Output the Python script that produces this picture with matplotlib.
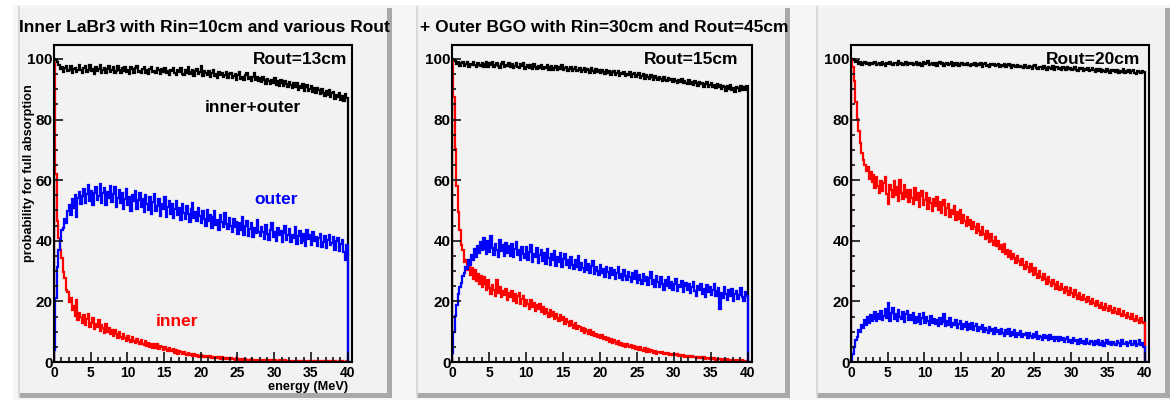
import numpy as np
import matplotlib
matplotlib.use("Agg")
import matplotlib.pyplot as plt
from matplotlib.patches import Rectangle
from matplotlib.ticker import MultipleLocator, FixedLocator

plt.rcParams['font.family'] = ['Liberation Sans', 'DejaVu Sans']
plt.rcParams['font.weight'] = 'bold'

# ---------------------------------------------------------------- data
# Full-absorption probability (%) in 0.2 MeV energy bins from 0 to 40 MeV
BIN_WIDTH = 0.2
E_MAX = 40.0
X_MAX = 40.6
Y_MAX = 104.6

titles = ["Inner LaBr3 with Rin=10cm and various Rout",
          "+ Outer BGO with Rin=30cm and Rout=45cm"]
rout_labels = ["Rout=13cm", "Rout=15cm", "Rout=20cm"]
curve_labels = ["inner+outer", "outer", "inner"]
x_ticks = [0, 5, 10, 15, 20, 25, 30, 35, 40]
y_ticks = [0, 20, 40, 60, 80, 100]

# Rout = 13 cm
tot_13 = [
    100.0, 99.6, 99.1, 97.9, 96.8, 97.5, 95.6, 96.9, 97.8, 95.9, 96.4, 97.6, 95.3, 96.8, 97.1, 95.8, 96.2, 98.0, 96.5, 95.4,
    96.9, 97.7, 95.6, 96.3, 98.1, 95.9, 96.6, 95.1, 97.4, 96.0, 96.8, 97.9, 95.5, 96.2, 97.0, 95.3, 96.7, 97.6, 95.8, 96.4,
    97.3, 95.4, 96.1, 97.8, 96.5, 95.2, 96.9, 96.0, 97.5, 95.6, 96.3, 95.0, 97.2, 96.6, 95.4, 96.9, 97.7, 95.7, 96.1, 95.3,
    96.8, 97.4, 95.5, 96.2, 94.9, 96.7, 97.3, 95.8, 96.0, 95.2, 97.1, 96.4, 95.0, 96.6, 95.7, 97.0, 95.3, 96.1, 94.8, 96.5,
    95.9, 97.0, 95.4, 94.7, 96.3, 95.8, 96.9, 95.1, 94.6, 96.2, 95.5, 97.2, 94.9, 95.7, 96.4, 94.5, 95.9, 96.7, 95.0, 95.6,
    97.6, 94.3, 96.1, 95.2, 94.6, 95.9, 94.0, 95.5, 96.2, 94.4, 95.0, 93.8, 95.7, 94.8, 95.3, 93.9, 94.6, 95.8, 93.7, 94.9,
    95.4, 93.6, 94.3, 95.1, 93.2, 94.7, 95.6, 93.5, 94.0, 92.9, 94.8, 95.5, 93.3, 94.2, 92.8, 93.9, 95.4, 93.0, 94.1, 92.6,
    93.7, 92.4, 94.0, 93.1, 91.8, 93.5, 92.7, 91.6, 93.2, 92.2, 93.8, 91.5, 92.6, 91.2, 93.0, 92.1, 91.0, 92.8, 91.7, 90.8,
    92.4, 91.3, 90.4, 91.9, 90.7, 92.1, 89.9, 91.0, 90.3, 91.6, 89.5, 90.8, 91.4, 89.3, 90.1, 91.2, 89.0, 90.5, 88.8, 90.3,
    89.6, 88.5, 90.1, 88.9, 87.7, 89.4, 88.2, 89.8, 87.3, 88.6, 89.2, 86.9, 88.0, 87.4, 88.9, 86.6, 87.8, 86.2, 88.3, 87.1,
]
out_13 = [
    4.0, 21.0, 31.5, 36.8, 40.2, 43.5, 44.1, 47.3, 46.0, 49.8, 51.9, 48.6, 53.8, 50.7, 55.1, 47.9, 54.2, 56.0, 52.3, 54.7,
    57.1, 52.6, 55.3, 58.4, 53.0, 56.5, 51.9, 55.8, 57.9, 53.6, 54.9, 58.8, 52.4, 55.6, 57.3, 51.7, 56.2, 54.1, 58.0, 52.9,
    55.4, 57.6, 51.3, 54.0, 56.9, 52.5, 55.7, 50.6, 53.8, 57.0, 51.9, 54.6, 49.8, 55.2, 53.1, 56.3, 50.4, 53.5, 55.8, 51.0,
    53.7, 49.5, 55.0, 52.2, 50.1, 54.3, 48.7, 52.9, 55.4, 49.9, 51.6, 53.8, 48.2, 52.0, 50.5, 54.6, 47.9, 51.3, 53.2, 49.0,
    52.1, 47.5, 50.6, 53.0, 48.4, 50.9, 46.8, 52.3, 49.3, 47.1, 51.5, 48.8, 46.2, 50.4, 52.6, 47.6, 49.5, 46.4, 50.8, 48.1,
    45.9, 49.7, 47.2, 44.8, 50.3, 46.5, 48.6, 44.1, 47.8, 49.9, 45.3, 47.0, 43.7, 48.4, 46.1, 44.5, 49.2, 45.7, 43.9, 47.5,
    45.0, 42.8, 47.1, 44.6, 46.3, 42.3, 45.8, 43.4, 47.7, 42.0, 44.9, 46.6, 41.6, 43.8, 45.9, 41.2, 44.3, 42.5, 46.8, 42.9,
    41.5, 44.7, 43.0, 40.6, 45.1, 42.2, 40.1, 43.6, 46.0, 41.4, 42.8, 39.8, 44.2, 41.9, 43.3, 39.5, 42.6, 44.9, 40.3, 41.8,
    43.9, 39.6, 42.0, 40.8, 44.5, 38.9, 41.5, 43.1, 39.3, 42.4, 40.0, 38.4, 43.6, 40.7, 41.9, 38.7, 42.8, 39.9, 41.1, 38.2,
    40.9, 42.3, 38.0, 39.7, 41.6, 37.5, 40.4, 42.0, 38.6, 39.2, 41.4, 37.1, 39.8, 40.9, 36.7, 38.9, 40.2, 36.2, 33.8, 38.5,
]
in_13 = [
    98.5, 62.0, 46.5, 40.8, 36.9, 34.2, 29.6, 27.8, 23.9, 23.1, 19.8, 21.2, 17.1, 18.4, 15.2, 20.6, 13.7, 16.3, 14.9, 12.8,
    15.4, 12.2, 14.1, 15.8, 11.6, 13.0, 14.6, 10.9, 12.7, 11.4, 13.9, 10.3, 12.1, 11.2, 9.6, 12.4, 10.0, 11.3, 9.2, 10.6,
    8.7, 10.4, 9.1, 7.8, 9.9, 8.3, 7.5, 9.2, 8.0, 6.9, 8.6, 7.3, 6.6, 8.1, 7.0, 6.2, 7.7, 6.5, 5.8, 7.1,
    6.0, 5.5, 7.0, 5.2, 6.4, 5.0, 6.1, 4.7, 5.8, 4.5, 5.9, 4.3, 5.3, 4.9, 4.0, 5.1, 4.4, 3.7, 4.7, 3.9,
    3.5, 4.3, 3.1, 3.8, 2.8, 3.6, 3.3, 2.5, 3.2, 2.7, 2.3, 3.0, 2.2, 2.8, 2.0, 2.6, 1.9, 2.4, 1.8, 2.1,
    2.2, 1.7, 2.1, 1.6, 1.9, 1.5, 2.0, 1.4, 1.8, 1.3, 1.6, 1.2, 1.7, 1.1, 1.5, 1.0, 1.4, 1.1, 1.2, 0.9,
    1.3, 0.9, 1.1, 0.8, 1.2, 0.7, 1.0, 0.8, 0.9, 0.6, 1.0, 0.7, 0.8, 0.5, 0.9, 0.6, 0.7, 0.5, 0.8, 0.4,
    0.6, 0.5, 0.7, 0.4, 0.6, 0.3, 0.5, 0.4, 0.6, 0.3, 0.5, 0.4, 0.3, 0.5, 0.2, 0.4, 0.3, 0.5, 0.2, 0.4,
    0.3, 0.2, 0.4, 0.3, 0.2, 0.4, 0.1, 0.3, 0.2, 0.3, 0.1, 0.3, 0.2, 0.4, 0.1, 0.2, 0.3, 0.1, 0.2, 0.3,
    0.1, 0.2, 0.3, 0.1, 0.2, 0.1, 0.3, 0.2, 0.1, 0.2, 0.1, 0.2, 0.1, 0.1, 0.2, 0.1, 0.2, 0.1, 0.1, 0.2,
]

# Rout = 15 cm
tot_15 = [
    100.0, 99.7, 99.3, 98.4, 99.0, 97.8, 98.6, 99.1, 97.7, 98.2, 98.9, 97.5, 98.4, 97.9, 99.0, 98.1, 97.4, 98.7, 98.0, 97.6,
    98.8, 97.5, 98.2, 99.0, 97.3, 98.5, 97.9, 98.9, 97.2, 98.1, 98.6, 97.6, 97.1, 98.4, 98.9, 97.4, 98.0, 97.7, 98.7, 97.2,
    98.3, 97.0, 97.8, 98.6, 97.4, 96.9, 98.2, 97.6, 98.5, 96.8, 97.5, 98.1, 97.1, 97.9, 96.7, 98.3, 97.3, 96.8, 97.8, 97.0,
    98.0, 96.6, 97.5, 97.1, 98.1, 96.5, 97.3, 97.8, 96.4, 97.0, 97.6, 96.2, 97.4, 96.8, 97.9, 96.3, 96.9, 97.5, 96.1, 96.8,
    97.3, 96.0, 96.7, 97.4, 95.9, 96.5, 97.1, 95.7, 96.4, 96.9, 95.6, 96.8, 96.2, 95.5, 97.0, 96.0, 95.4, 96.6, 95.8, 96.3,
    95.2, 96.5, 95.7, 94.9, 96.2, 95.4, 96.0, 94.7, 95.6, 96.1, 94.6, 95.3, 95.9, 94.4, 95.5, 94.9, 95.8, 94.3, 95.1, 94.7,
    95.6, 94.2, 94.9, 95.3, 93.9, 94.6, 95.2, 93.8, 94.4, 94.9, 93.5, 94.7, 93.9, 93.3, 94.8, 94.0, 93.2, 94.5, 93.6, 93.0,
    94.2, 93.4, 92.8, 93.9, 93.1, 92.6, 93.8, 92.9, 93.4, 92.3, 93.5, 92.7, 92.1, 93.2, 92.5, 93.3, 91.9, 92.8, 92.2, 91.7,
    92.9, 91.8, 92.4, 91.5, 92.7, 91.9, 91.2, 92.5, 91.6, 92.0, 90.9, 91.8, 92.3, 90.7, 91.5, 92.0, 90.6, 91.3, 90.4, 91.7,
    90.8, 91.5, 90.1, 91.2, 90.6, 89.3, 91.0, 90.2, 91.4, 89.7, 90.5, 89.1, 90.9, 90.3, 89.4, 91.1, 89.9, 90.6, 89.6, 91.0,
]
out_15 = [
    3.0, 9.8, 15.2, 18.7, 22.4, 24.8, 26.2, 28.5, 29.4, 31.2, 30.8, 33.5, 31.9, 35.4, 33.6, 37.2, 34.8, 38.3, 35.9, 39.7,
    36.8, 40.9, 37.4, 35.6, 39.8, 36.3, 41.5, 37.7, 35.2, 39.1, 37.0, 34.8, 40.3, 36.5, 38.6, 34.9, 39.4, 36.1, 38.2, 35.0,
    38.9, 34.5, 37.3, 39.6, 35.4, 36.9, 33.8, 38.1, 35.7, 34.2, 37.8, 33.6, 36.4, 38.5, 33.1, 35.8, 34.6, 37.5, 32.8, 35.2,
    36.8, 33.4, 35.9, 32.5, 37.2, 34.3, 32.0, 35.5, 33.7, 36.6, 31.8, 34.7, 33.0, 36.1, 31.4, 34.0, 35.8, 31.9, 33.5, 30.9,
    34.6, 32.1, 30.6, 33.8, 31.5, 35.0, 30.3, 32.8, 31.0, 29.7, 33.6, 30.5, 32.2, 29.4, 31.7, 33.3, 29.0, 31.2, 30.1, 28.6,
    31.9, 29.3, 30.7, 28.2, 31.4, 29.8, 27.6, 30.9, 28.7, 30.2, 27.3, 29.5, 31.3, 27.8, 29.0, 26.9, 30.4, 28.3, 27.1, 29.7,
    28.0, 26.4, 29.4, 27.5, 30.1, 26.1, 28.6, 27.0, 25.7, 29.1, 26.8, 28.2, 25.4, 27.7, 29.6, 25.9, 27.2, 24.9, 28.4, 26.3,
    24.6, 27.9, 25.8, 23.9, 27.1, 25.2, 28.0, 24.3, 26.5, 23.6, 25.9, 27.4, 23.3, 25.5, 24.7, 26.8, 23.0, 25.1, 26.2, 23.8,
    25.7, 22.8, 24.6, 26.5, 23.4, 21.9, 25.2, 23.7, 25.9, 22.4, 24.0, 21.6, 25.3, 23.1, 24.8, 22.0, 23.9, 25.6, 21.7, 23.3,
    24.4, 17.5, 22.9, 21.2, 24.7, 22.3, 20.5, 23.8, 21.9, 24.1, 20.2, 22.6, 23.5, 20.9, 22.2, 24.3, 21.4, 20.0, 23.2, 21.8,
]
in_15 = [
    99.0, 87.5, 70.3, 58.1, 49.4, 43.6, 38.7, 36.9, 33.1, 33.8, 30.2, 32.4, 28.6, 31.0, 27.5, 30.3, 26.8, 29.2, 25.9, 28.4,
    24.6, 27.9, 25.7, 23.8, 26.9, 24.4, 22.6, 25.3, 23.9, 21.8, 27.2, 22.9, 24.7, 21.3, 23.5, 22.1, 24.0, 20.6, 22.8, 21.5,
    23.3, 20.2, 22.4, 19.4, 21.7, 22.9, 19.0, 20.8, 21.9, 18.5, 20.4, 19.2, 17.6, 20.6, 18.1, 19.5, 16.9, 18.7, 17.4, 19.3,
    16.6, 18.2, 15.8, 17.5, 16.1, 14.9, 17.2, 15.3, 16.4, 14.1, 15.9, 14.6, 13.5, 15.6, 13.9, 14.8, 12.7, 14.2, 13.1, 11.9,
    13.6, 12.2, 11.3, 12.9, 10.9, 12.0, 11.6, 10.2, 11.3, 9.6, 10.9, 10.1, 9.2, 10.5, 8.8, 9.9, 8.5, 9.4, 8.1, 8.9,
    7.8, 8.9, 7.5, 8.3, 7.2, 8.0, 6.7, 7.6, 6.3, 7.4, 6.6, 5.9, 7.0, 5.7, 6.4, 5.3, 6.1, 5.0, 5.8, 5.4,
    4.8, 5.6, 4.5, 5.3, 4.2, 5.0, 3.9, 4.8, 4.1, 3.6, 4.5, 3.4, 4.2, 3.2, 3.9, 3.5, 3.0, 3.7, 2.8, 3.4,
    3.3, 2.9, 3.2, 2.7, 3.0, 2.5, 2.9, 2.4, 2.7, 2.3, 2.6, 2.2, 2.5, 2.0, 2.3, 1.9, 2.2, 1.8, 2.1, 1.7,
    2.0, 1.6, 1.9, 1.5, 1.8, 1.4, 1.7, 1.3, 1.6, 1.2, 1.5, 1.1, 1.4, 1.2, 1.0, 1.3, 0.9, 1.2, 0.8, 1.1,
    0.9, 1.1, 0.7, 1.0, 0.8, 0.6, 0.9, 0.5, 0.8, 0.6, 0.4, 0.7, 0.5, 0.3, 0.6, 0.4, 0.5, 0.3, 0.4, 0.3,
]

# Rout = 20 cm
tot_20 = [
    100.0, 99.9, 99.5, 98.9, 99.2, 98.4, 98.9, 98.1, 98.7, 99.1, 98.3, 98.6, 97.9, 98.8, 98.2, 98.5, 99.0, 98.0, 98.4, 98.7,
    98.1, 98.9, 98.3, 97.8, 98.6, 98.2, 99.0, 98.4, 97.9, 98.7, 98.5, 98.0, 99.3, 98.3, 98.6, 97.9, 98.4, 98.9, 98.1, 98.5,
    98.2, 98.8, 97.9, 98.4, 99.1, 98.0, 98.6, 98.3, 97.8, 98.9, 98.2, 98.5, 99.2, 97.9, 98.4, 98.7, 98.1, 98.5, 97.8, 98.6,
    98.9, 98.2, 98.5, 97.7, 98.4, 98.8, 98.0, 98.3, 99.0, 97.8, 98.5, 98.1, 98.7, 97.6, 98.2, 98.6, 97.9, 98.4, 98.0, 98.8,
    98.1, 97.6, 98.4, 98.0, 98.7, 97.7, 98.3, 97.9, 98.6, 97.5, 98.2, 98.5, 97.8, 98.1, 97.4, 98.4, 97.9, 98.2, 97.6, 98.0,
    98.3, 97.5, 98.0, 97.7, 98.4, 97.3, 97.9, 98.2, 97.6, 97.1, 98.0, 97.7, 97.4, 98.1, 97.2, 97.8, 97.5, 96.9, 97.9, 97.4,
    97.0, 97.8, 97.3, 96.8, 97.6, 97.9, 97.1, 96.7, 97.5, 97.2, 96.6, 97.8, 97.0, 96.5, 97.4, 97.1, 96.8, 97.6, 96.4, 97.2,
    97.5, 96.6, 97.1, 96.3, 97.3, 96.9, 96.4, 97.2, 96.7, 97.0, 96.2, 96.8, 97.3, 96.5, 96.0, 96.9, 96.6, 97.1, 96.1, 96.7,
    96.3, 96.9, 95.9, 96.5, 97.0, 96.2, 95.8, 96.6, 96.0, 96.8, 95.7, 96.4, 96.1, 95.6, 96.7, 96.0, 95.5, 96.5, 95.9, 96.3,
    95.7, 96.4, 95.4, 96.1, 95.8, 96.6, 95.3, 96.0, 95.6, 96.2, 95.2, 95.9, 96.3, 95.5, 95.1, 96.0, 95.7, 95.3, 96.1, 95.6,
]
out_20 = [
    0.4, 2.6, 4.9, 7.2, 8.3, 10.6, 9.9, 12.3, 11.2, 13.8, 12.1, 14.7, 12.9, 15.5, 13.4, 14.2, 16.4, 13.6, 15.9, 14.1,
    16.7, 13.8, 15.2, 17.4, 14.5, 19.4, 13.6, 16.3, 17.8, 14.2, 15.7, 13.4, 17.1, 15.0, 14.3, 16.6, 13.1, 15.8, 16.9, 13.7,
    15.4, 14.0, 16.2, 12.8, 14.9, 13.3, 15.8, 12.5, 14.4, 16.1, 12.9, 14.7, 13.5, 12.2, 15.3, 13.0, 14.1, 12.4, 13.7, 11.9,
    14.5, 12.6, 13.2, 15.9, 11.8, 13.6, 12.3, 14.4, 11.5, 13.0, 12.1, 14.0, 11.2, 12.7, 13.5, 10.9, 12.4, 11.7, 13.1, 10.7,
    12.5, 11.0, 12.9, 10.5, 11.8, 12.6, 10.2, 11.4, 10.8, 12.3, 9.8, 11.3, 10.6, 9.5, 11.7, 10.1, 10.9, 9.3, 11.2, 9.9,
    10.6, 9.2, 11.0, 9.7, 8.7, 10.4, 9.4, 10.9, 8.6, 9.9, 9.0, 10.5, 8.4, 9.6, 8.9, 10.1, 8.2, 9.3, 8.8, 9.7,
    8.0, 9.5, 8.6, 7.8, 9.1, 8.3, 9.8, 7.6, 8.7, 8.1, 7.4, 9.0, 7.9, 8.5, 7.2, 8.8, 7.7, 8.2, 7.0, 8.4,
    7.5, 6.8, 8.3, 7.1, 7.9, 6.5, 7.6, 8.2, 6.7, 7.3, 6.2, 7.8, 6.9, 7.4, 6.0, 7.2, 7.7, 6.4, 7.0, 6.1,
    7.5, 6.3, 5.8, 7.0, 6.6, 5.5, 6.9, 6.1, 7.3, 5.7, 6.4, 6.8, 5.4, 6.2, 7.1, 5.9, 6.5, 5.6, 6.7, 6.0,
    5.7, 6.9, 6.2, 5.3, 7.4, 6.0, 5.8, 6.6, 5.2, 6.3, 7.0, 5.5, 6.1, 6.8, 5.4, 5.9, 7.2, 5.6, 6.4, 5.1,
]
in_20 = [
    100.0, 97.5, 92.8, 85.9, 80.3, 76.2, 72.4, 68.9, 66.8, 65.1, 62.9, 64.2, 60.4, 62.8, 59.3, 61.6, 57.5, 60.9, 58.2, 55.9,
    59.8, 56.4, 58.9, 61.2, 55.3, 52.0, 58.4, 56.9, 54.6, 59.7, 55.1, 57.8, 53.2, 60.0, 55.8, 53.9, 58.3, 54.4, 56.6, 52.7,
    56.9, 54.1, 52.3, 57.4, 53.6, 55.9, 51.2, 54.8, 56.5, 51.8, 53.3, 55.6, 50.5, 54.0, 52.6, 49.9, 53.7, 51.4, 54.5, 50.2,
    52.8, 49.3, 51.7, 53.6, 48.5, 50.9, 52.2, 47.8, 50.3, 48.9, 51.4, 46.7, 49.6, 47.3, 50.1, 45.8, 48.4, 46.5, 44.9, 47.7,
    45.3, 47.0, 43.9, 46.2, 44.5, 42.6, 45.7, 43.2, 41.8, 44.4, 42.1, 40.5, 43.3, 41.0, 39.6, 42.2, 39.8, 38.7, 41.1, 38.3,
    39.9, 37.4, 38.6, 36.3, 38.9, 35.7, 37.1, 34.8, 36.6, 33.9, 35.8, 34.4, 32.6, 35.0, 33.3, 31.9, 34.1, 32.0, 30.8, 32.9,
    31.2, 29.8, 32.3, 30.0, 28.7, 31.1, 29.2, 27.6, 30.0, 28.1, 26.9, 29.1, 27.3, 25.8, 28.0, 26.4, 25.1, 27.2, 25.6, 24.2,
    26.3, 24.9, 23.6, 25.7, 24.1, 22.8, 24.9, 23.3, 22.2, 24.3, 22.7, 21.6, 23.6, 22.0, 20.9, 22.8, 21.4, 20.3, 22.1, 20.8,
    19.8, 21.5, 20.1, 19.1, 20.9, 19.5, 18.5, 20.2, 18.9, 17.8, 19.6, 18.2, 17.2, 19.0, 17.7, 16.8, 18.4, 17.0, 16.3, 17.8,
    16.6, 15.8, 17.4, 16.0, 15.2, 16.9, 15.5, 14.6, 16.3, 14.9, 14.1, 15.7, 14.3, 13.6, 15.2, 13.9, 12.9, 14.6, 13.3, 12.8,
]

# ---------------------------------------------------------------- layout
W, H = 1170, 400
fig = plt.figure(figsize=(W / 100, H / 100), dpi=100, facecolor="white")


def fx(x):
    return x / W


def fy(y):
    return 1 - y / H


def box(x0, y0, x1, y1, color, z=0):
    fig.patches.append(Rectangle((fx(x0), fy(y1)), fx(x1) - fx(x0), fy(y0) - fy(y1),
                                 transform=fig.transFigure, facecolor=color,
                                 edgecolor="none", zorder=z))


PAD_FACE = "#f2f2f2"
PAD_SHADOW = "#a9a9a9"

# canvas and raised pads
box(13, 5, W, H, "#f6f6f6", 0)
for (x0, x1) in [(20, 392), (418, 790), (818, 1170)]:
    box(x0, 8, x1, 398, PAD_SHADOW, 1)
    box(x0 - 2, 6, x0, 398, "#d9d9d9", 1)
    box(x0, 8, x1 - 5, 393, PAD_FACE, 2)

frames = [(54, 352), (452, 752), (851, 1149)]
rout_right = [347, 738, 1140]
frame_top, frame_bot = 45, 362
edges = np.arange(0, E_MAX + BIN_WIDTH / 2, BIN_WIDTH)

panels = [(tot_13, out_13, in_13), (tot_15, out_15, in_15), (tot_20, out_20, in_20)]

for i, ((x0, x1), (tot, out, inn)) in enumerate(zip(frames, panels)):
    ax = fig.add_axes([fx(x0), fy(frame_bot), fx(x1) - fx(x0), fy(frame_top) - fy(frame_bot)])
    ax.set_facecolor(PAD_FACE)
    ax.set_zorder(5)
    ax.stairs(tot, edges, baseline=0, color="black", lw=1.6)
    ax.stairs(inn, edges, baseline=0, color="#ff0000", lw=1.6)
    ax.stairs(out, edges, baseline=0, color="#0000ff", lw=1.6)
    ax.plot([E_MAX, X_MAX], [0, 0], color="#0000ff", lw=1.6)
    ax.set_xlim(0, X_MAX)
    ax.set_ylim(0, Y_MAX)
    for s in ax.spines.values():
        s.set_linewidth(1.5)
        s.set_color("black")
    ax.xaxis.set_major_locator(FixedLocator(x_ticks))
    ax.xaxis.set_minor_locator(MultipleLocator(1))
    ax.yaxis.set_major_locator(FixedLocator(y_ticks))
    ax.yaxis.set_minor_locator(MultipleLocator(5))
    ax.tick_params(axis="x", which="major", direction="in", length=7, width=1.1, pad=3,
                   labelsize=10, top=False)
    ax.tick_params(axis="x", which="minor", direction="in", length=3.5, width=1.1, top=False)
    ax.tick_params(axis="y", which="major", direction="in", length=6.5, width=1.1, pad=1,
                   labelsize=11, right=False)
    ax.tick_params(axis="y", which="minor", direction="in", length=3.2, width=1.1, right=False)
    for lab in ax.get_xticklabels() + ax.get_yticklabels():
        lab.set_fontweight("bold")
    fig.text(fx(rout_right[i]), fy(59), rout_labels[i], ha="right", va="center",
             fontsize=12.5, fontweight="bold", zorder=10)

# panel titles
fig.text(fx(19), fy(27.5), titles[0], ha="left", va="center", fontsize=12.5,
         fontweight="bold", zorder=10)
fig.text(fx(420), fy(27.5), titles[1], ha="left", va="center", fontsize=12.5,
         fontweight="bold", zorder=10)

# axis titles (first panel only)
fig.text(fx(29), fy(173), "probability for full absorption", rotation=90, ha="center",
         va="center", fontsize=9.2, fontweight="bold", zorder=10)
fig.text(fx(348), fy(387), "energy (MeV)", ha="right", va="center", fontsize=9.2,
         fontweight="bold", zorder=10)

# curve labels (first panel only)
fig.text(fx(253), fy(108), curve_labels[0], ha="center", va="center", fontsize=12.5,
         fontweight="bold", color="black", zorder=10)
fig.text(fx(276), fy(199), curve_labels[1], ha="center", va="center", fontsize=12.5,
         fontweight="bold", color="#0000ff", zorder=10)
fig.text(fx(177), fy(322), curve_labels[2], ha="center", va="center", fontsize=12.5,
         fontweight="bold", color="#ff0000", zorder=10)

fig.savefig("out.png", dpi=100, facecolor=fig.get_facecolor())
